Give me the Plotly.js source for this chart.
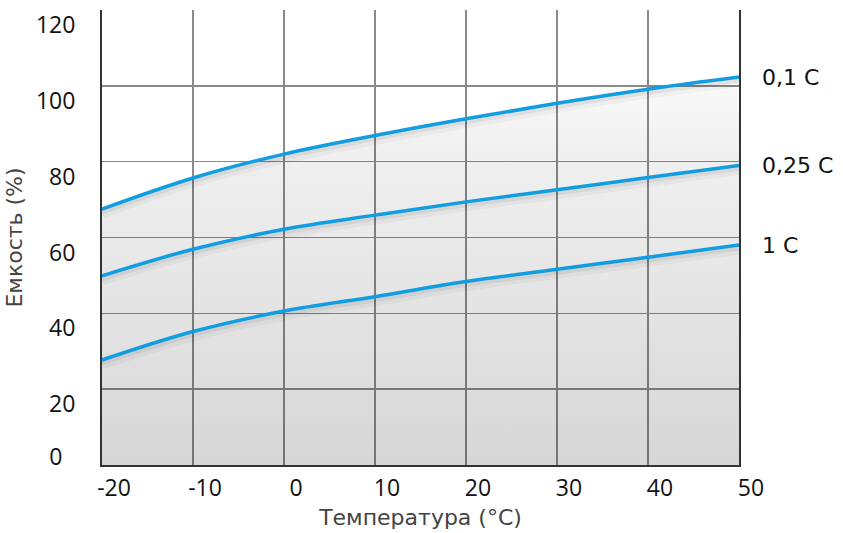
<!DOCTYPE html>
<html>
<head>
<meta charset="utf-8">
<script src="https://cdn.plot.ly/plotly-3.0.1.min.js"></script>
<style>html,body{margin:0;padding:0;background:#fff;}#chart{width:843px;height:533px;}</style>
</head>
<body>
<div id="chart"></div>
<script>
// Data
var temps = [-20, -10, 0, 10, 20, 30, 40, 50];
var cap01 = [67.5, 75.7, 82.0, 86.9, 91.3, 95.4, 99.1, 102.3];
var cap025 = [49.9, 56.9, 62.2, 65.9, 69.4, 72.6, 75.8, 79.0];
var cap1 = [27.7, 35.2, 40.6, 44.4, 48.4, 51.6, 54.8, 58.0];
var seriesNames = ["0,1 C", "0,25 C", "1 C"];
var xTickVals = [-20, -10, 0, 10, 20, 30, 40, 50];
var xTickText = ["-20", "-10", "0", "10", "20", "30", "40", "50"];
var yTickVals = [20, 40, 60, 80, 100, 120];
var yTickText = ["20", "40", "60", "80", "100", "120"];
var yZeroVal = [0];
var yZeroText = ["0"];
var xTitle = "Температура (°C)";
var yTitle = "Емкость (%)";

var TICKFONT = "Open Sans, sans-serif";
var TEXTFONT = "DejaVu Sans, sans-serif";
var BLUE = "#109de2";
var series = [cap01, cap025, cap1];

var traces = [];
// gradient fill under top curve
traces.push({
  x: temps, y: cap01, type: "scatter", mode: "lines",
  line: {width: 0, shape: "spline", smoothing: 1},
  fill: "tozeroy",
  fillgradient: {type: "vertical", start: 0, stop: 110,
    colorscale: [[0, "rgba(0,0,0,0.16)"], [0.5, "rgba(0,0,0,0.09)"], [0.75, "rgba(0,0,0,0.06)"], [1, "rgba(0,0,0,0)"]]},
  hoverinfo: "skip", showlegend: false
});
// soft shadows
series.forEach(function (s) {
  traces.push({
    x: temps, y: s.map(function (v) { return v - 1.2; }), type: "scatter", mode: "lines",
    line: {color: "rgba(0,0,0,0.035)", width: 10, shape: "spline", smoothing: 1},
    hoverinfo: "skip", showlegend: false
  });
  traces.push({
    x: temps, y: s.map(function (v) { return v - 0.8; }), type: "scatter", mode: "lines",
    line: {color: "rgba(0,0,0,0.06)", width: 5, shape: "spline", smoothing: 1},
    hoverinfo: "skip", showlegend: false
  });
});
// main lines
series.forEach(function (s, i) {
  traces.push({
    x: temps, y: s, type: "scatter", mode: "lines", name: seriesNames[i],
    line: {color: BLUE, width: 3.5, shape: "spline", smoothing: 1},
    showlegend: false
  });
});
// invisible trace to activate yaxis2 for the "0" label
traces.push({x: [temps[0]], y: [yZeroVal[0]], yaxis: "y2", mode: "markers", marker: {opacity: 0}, hoverinfo: "skip", showlegend: false, type: "scatter"});

var annotations = series.map(function (s, i) {
  return {
    x: temps[temps.length - 1], y: s[s.length - 1], xref: "x", yref: "y",
    text: seriesNames[i], showarrow: false, xanchor: "left", yanchor: "middle",
    xshift: 21, font: {family: TEXTFONT, size: 22, color: "#111"}
  };
});

var layout = {
  width: 843, height: 533,
  margin: {l: 102, r: 104, t: 10, b: 68},
  paper_bgcolor: "#fff", plot_bgcolor: "#fff",
  showlegend: false,
  font: {family: TICKFONT, color: "#111"},
  xaxis: {
    range: [-20, 50], tickmode: "array", tickvals: xTickVals, ticktext: xTickText,
    showgrid: true, gridcolor: "#8a8a8a", gridwidth: 1.5,
    showline: true, linecolor: "#333", linewidth: 2,
    zeroline: false, ticks: "outside", ticklen: 1, tickcolor: "rgba(0,0,0,0)",
    ticklabelshift: 12,
    tickfont: {family: TICKFONT, size: 23, color: "#111"},
    title: {text: xTitle, font: {family: TEXTFONT, size: 22, color: "#444"}, standoff: 8}
  },
  yaxis: {
    range: [0, 120], tickmode: "array", tickvals: yTickVals, ticktext: yTickText,
    showgrid: true, gridcolor: "#8a8a8a", gridwidth: 1.5,
    showline: true, mirror: true, linecolor: "#333", linewidth: 2,
    zeroline: false, ticks: "outside", ticklen: 20, tickcolor: "rgba(0,0,0,0)",
    ticklabelshift: 15,
    tickfont: {family: TICKFONT, size: 23, color: "#111"},
    title: {text: yTitle, font: {family: TEXTFONT, size: 22, color: "#444"}, standoff: 7}
  },
  yaxis2: {
    overlaying: "y", side: "left", range: [0, 120], tickmode: "array",
    tickvals: yZeroVal, ticktext: yZeroText, showgrid: false, showline: false, zeroline: false,
    ticks: "outside", ticklen: 34, tickcolor: "rgba(0,0,0,0)", ticklabelshift: -8,
    tickfont: {family: TICKFONT, size: 23, color: "#111"}
  },
  annotations: annotations
};

Plotly.newPlot("chart", traces, layout, {displayModeBar: false, staticPlot: true});
</script>
</body>
</html>
